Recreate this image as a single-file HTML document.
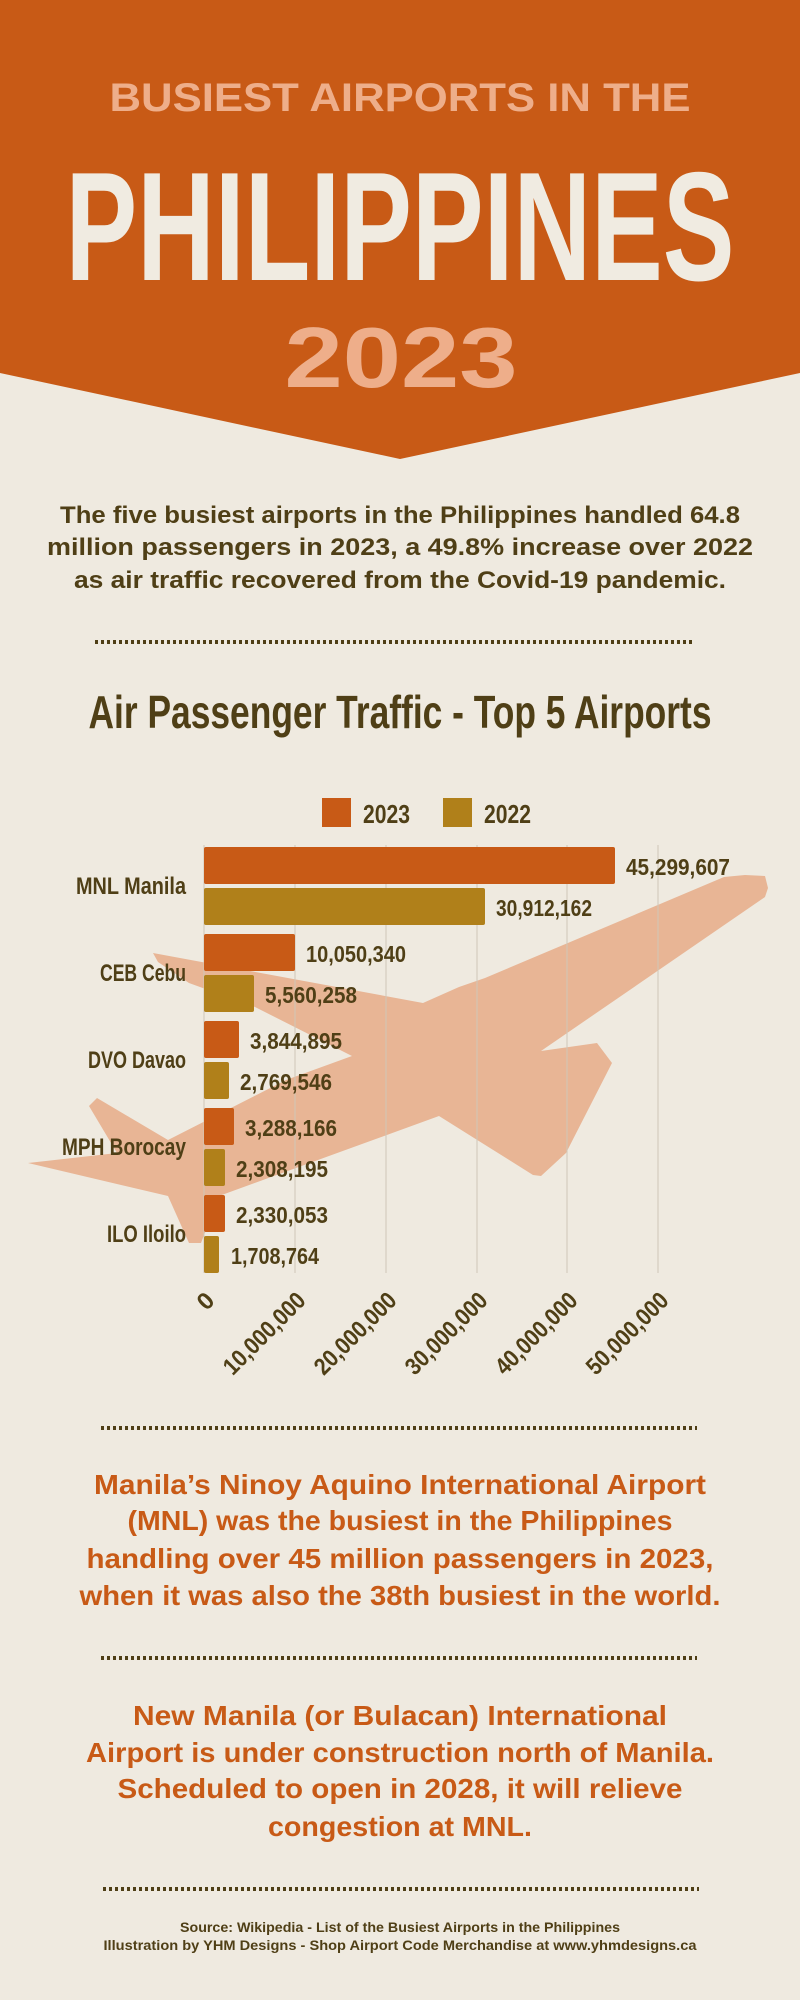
<!DOCTYPE html>
<html><head><meta charset="utf-8"><style>
html,body{margin:0;padding:0;background:#efeae0;}
svg{display:block;}
text{font-family:"Liberation Sans",sans-serif;font-weight:bold;}
</style></head><body>
<svg width="800" height="2000" viewBox="0 0 800 2000" xmlns="http://www.w3.org/2000/svg">
<rect width="800" height="2000" fill="#efeae0"/>
<polygon points="0,0 800,0 800,373 400,459 0,373" fill="#c85a16"/>
<text x="400" y="111" text-anchor="middle" font-size="40" fill="#eeae8a" textLength="581" lengthAdjust="spacingAndGlyphs">BUSIEST AIRPORTS IN THE</text>
<text x="400" y="280" text-anchor="middle" font-size="155" fill="#f0ebe1" textLength="669" lengthAdjust="spacingAndGlyphs">PHILIPPINES</text>
<text x="401" y="387" text-anchor="middle" font-size="85" fill="#eeae8a" textLength="233" lengthAdjust="spacingAndGlyphs">2023</text>

<g fill="#4f3f16" font-size="24" text-anchor="middle">
<text x="400" y="523" textLength="680" lengthAdjust="spacingAndGlyphs">The five busiest airports in the Philippines handled 64.8</text>
<text x="400" y="555" textLength="706" lengthAdjust="spacingAndGlyphs">million passengers in 2023, a 49.8% increase over 2022</text>
<text x="400" y="588" textLength="652" lengthAdjust="spacingAndGlyphs">as air traffic recovered from the Covid-19 pandemic.</text>
</g>

<g stroke="#4f3f16" stroke-width="4" stroke-dasharray="3,3">
<line x1="95" y1="642" x2="692" y2="642"/>
<line x1="101" y1="1428" x2="697" y2="1428"/>
<line x1="101" y1="1658" x2="697" y2="1658"/>
<line x1="103" y1="1889" x2="699" y2="1889"/>
</g>

<text x="400" y="728" text-anchor="middle" font-size="46" fill="#4f3f16" textLength="623" lengthAdjust="spacingAndGlyphs">Air Passenger Traffic - Top 5 Airports</text>

<rect x="322" y="798" width="29" height="29" fill="#c85a16"/>
<rect x="443" y="798" width="29" height="29" fill="#b0801a"/>
<g fill="#4f3f16" font-size="26">
<text x="363" y="823" textLength="47" lengthAdjust="spacingAndGlyphs">2023</text>
<text x="484" y="823" textLength="47" lengthAdjust="spacingAndGlyphs">2022</text>
</g>

<!-- plane -->
<polygon fill="#e8b595" points="768,888 765,876 745,875 724,877 485,978 459,987 423,1003 153,953 158,962 189,983 255,1007 352,1056 286,1080 168,1140 97,1098 89,1106 117,1153 28,1163 168,1196 189,1243 201,1243 219,1196 439,1116 533,1175 541,1176 566,1153 612,1063 597,1043 541,1051 765,897"/>

<!-- gridlines -->
<g stroke="#cfc6b8" stroke-width="1">
<line x1="295" y1="845" x2="295" y2="1273"/>
<line x1="386" y1="845" x2="386" y2="1273"/>
<line x1="477" y1="845" x2="477" y2="1273"/>
<line x1="567" y1="845" x2="567" y2="1273"/>
<line x1="658" y1="845" x2="658" y2="1273"/>
<line x1="204" y1="845" x2="204" y2="1273"/>
</g>

<!-- bars -->
<g>
<rect x="204" y="847" width="411" height="37" rx="2" fill="#c85a16"/>
<rect x="204" y="888" width="281" height="37" rx="2" fill="#b0801a"/>
<rect x="204" y="934" width="91" height="37" rx="2" fill="#c85a16"/>
<rect x="204" y="975" width="50" height="37" rx="2" fill="#b0801a"/>
<rect x="204" y="1021" width="35" height="37" rx="2" fill="#c85a16"/>
<rect x="204" y="1062" width="25" height="37" rx="2" fill="#b0801a"/>
<rect x="204" y="1108" width="30" height="37" rx="2" fill="#c85a16"/>
<rect x="204" y="1149" width="21" height="37" rx="2" fill="#b0801a"/>
<rect x="204" y="1195" width="21" height="37" rx="2" fill="#c85a16"/>
<rect x="204" y="1236" width="15" height="37" rx="2" fill="#b0801a"/>
</g>

<g fill="#4f3f16" font-size="23">
<text x="626" y="875" textLength="104" lengthAdjust="spacingAndGlyphs">45,299,607</text>
<text x="496" y="916" textLength="96" lengthAdjust="spacingAndGlyphs">30,912,162</text>
<text x="306" y="962" textLength="100" lengthAdjust="spacingAndGlyphs">10,050,340</text>
<text x="265" y="1003" textLength="92" lengthAdjust="spacingAndGlyphs">5,560,258</text>
<text x="250" y="1049" textLength="92" lengthAdjust="spacingAndGlyphs">3,844,895</text>
<text x="240" y="1090" textLength="92" lengthAdjust="spacingAndGlyphs">2,769,546</text>
<text x="245" y="1136" textLength="92" lengthAdjust="spacingAndGlyphs">3,288,166</text>
<text x="236" y="1177" textLength="92" lengthAdjust="spacingAndGlyphs">2,308,195</text>
<text x="236" y="1223" textLength="92" lengthAdjust="spacingAndGlyphs">2,330,053</text>
<text x="231" y="1264" textLength="88" lengthAdjust="spacingAndGlyphs">1,708,764</text>
</g>

<g fill="#4f3f16" font-size="24" text-anchor="end">
<text x="186" y="894" textLength="110" lengthAdjust="spacingAndGlyphs">MNL Manila</text>
<text x="186" y="981" textLength="86" lengthAdjust="spacingAndGlyphs">CEB Cebu</text>
<text x="186" y="1068" textLength="98" lengthAdjust="spacingAndGlyphs">DVO Davao</text>
<text x="186" y="1155" textLength="124" lengthAdjust="spacingAndGlyphs">MPH Borocay</text>
<text x="186" y="1242" textLength="79" lengthAdjust="spacingAndGlyphs">ILO Iloilo</text>
</g>

<g fill="#4f3f16" font-size="24" text-anchor="end">
<text transform="translate(216,1302) rotate(-45)">0</text>
<text transform="translate(307,1302) rotate(-45)" textLength="105" lengthAdjust="spacingAndGlyphs">10,000,000</text>
<text transform="translate(398,1302) rotate(-45)" textLength="105" lengthAdjust="spacingAndGlyphs">20,000,000</text>
<text transform="translate(489,1302) rotate(-45)" textLength="105" lengthAdjust="spacingAndGlyphs">30,000,000</text>
<text transform="translate(579,1302) rotate(-45)" textLength="105" lengthAdjust="spacingAndGlyphs">40,000,000</text>
<text transform="translate(670,1302) rotate(-45)" textLength="105" lengthAdjust="spacingAndGlyphs">50,000,000</text>
</g>

<g fill="#c85a16" font-size="28" text-anchor="middle">
<text x="400" y="1494" textLength="612" lengthAdjust="spacingAndGlyphs">Manila’s Ninoy Aquino International Airport</text>
<text x="400" y="1530" textLength="545" lengthAdjust="spacingAndGlyphs">(MNL) was the busiest in the Philippines</text>
<text x="400" y="1568" textLength="627" lengthAdjust="spacingAndGlyphs">handling over 45 million passengers in 2023,</text>
<text x="400" y="1605" textLength="641" lengthAdjust="spacingAndGlyphs">when it was also the 38th busiest in the world.</text>
<text x="400" y="1725" textLength="534" lengthAdjust="spacingAndGlyphs">New Manila (or Bulacan) International</text>
<text x="400" y="1762" textLength="628" lengthAdjust="spacingAndGlyphs">Airport is under construction north of Manila.</text>
<text x="400" y="1798" textLength="565" lengthAdjust="spacingAndGlyphs">Scheduled to open in 2028, it will relieve</text>
<text x="400" y="1836" textLength="264" lengthAdjust="spacingAndGlyphs">congestion at MNL.</text>
</g>

<g fill="#4f3f16" font-size="14" text-anchor="middle">
<text x="400" y="1932" textLength="440" lengthAdjust="spacingAndGlyphs">Source: Wikipedia - List of the Busiest Airports in the Philippines</text>
<text x="400" y="1950" textLength="593" lengthAdjust="spacingAndGlyphs">Illustration by YHM Designs - Shop Airport Code Merchandise at www.yhmdesigns.ca</text>
</g>
</svg>
</body></html>
